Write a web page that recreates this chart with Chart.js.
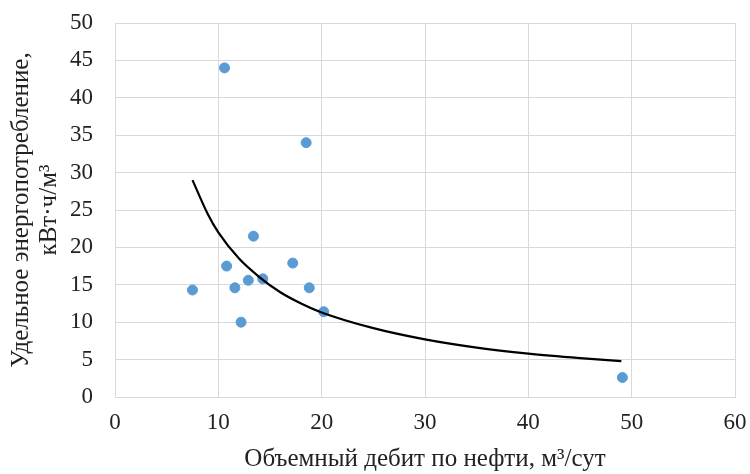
<!DOCTYPE html>
<html>
<head>
<meta charset="utf-8">
<script src="https://cdn.jsdelivr.net/npm/chart.js@4/dist/chart.umd.min.js"></script>
<style>
  html, body { margin: 0; padding: 0; background: #fff; }
  #wrap { width: 750px; height: 474px; }
</style>
</head>
<body>
<div id="wrap"><canvas id="chart" width="750" height="474"></canvas></div>
<script>
// Точки измерений
const debit = [10.6, 18.5, 13.4, 10.8, 17.2, 12.9, 14.3, 11.6, 7.5, 18.8, 20.2, 12.2, 49.1];
const energy = [44.0, 34.0, 21.5, 17.5, 17.9, 15.6, 15.8, 14.6, 14.3, 14.6, 11.4, 10.0, 2.6];

// Линия тренда
const trendX = [7.5, 9, 10, 12, 14, 16, 18, 20, 25, 30, 35, 40, 45, 49];
const trendY = [29.0, 24.4, 22.0, 18.5, 16.0, 14.0, 12.5, 11.3, 9.2, 7.7, 6.6, 5.8, 5.2, 4.8];

const xTicks = [0, 10, 20, 30, 40, 50, 60];
const yTicks = [0, 5, 10, 15, 20, 25, 30, 35, 40, 45, 50];

const font = "'Liberation Serif', 'Times New Roman', serif";
Chart.defaults.font.family = font;
Chart.defaults.color = '#222';

new Chart(document.getElementById('chart'), {
    type: 'scatter',
    data: {
        datasets: [
            {
                data: debit.map((x, i) => ({ x: x, y: energy[i] })),
                backgroundColor: '#5b9bd5',
                borderColor: '#5b9bd5',
                pointRadius: 5,
                order: 2
            },
            {
                type: 'line',
                data: trendX.map((x, i) => ({ x: x, y: trendY[i] })),
                borderColor: '#000',
                borderWidth: 2.2,
                pointRadius: 0,
                fill: false,
                cubicInterpolationMode: 'monotone',
                order: 1
            }
        ]
    },
    options: {
        responsive: false,
        animation: false,
        layout: { autoPadding: false, padding: { top: 23, right: 15, left: 0, bottom: 0 } },
        plugins: { legend: { display: false }, tooltip: { enabled: false } },
        scales: {
            x: {
                type: 'linear',
                min: 0, max: 60,
                afterBuildTicks: s => { s.ticks = xTicks.map(v => ({ value: v })); },
                afterFit: s => {
                    s.height = 77;
                    // убираем автоматические отступы под подписи
                    s.paddingLeft = 0;
                    s.paddingRight = 0;
                },
                grid: { color: '#d9d9d9', lineWidth: 1, drawTicks: false },
                border: { color: '#d9d9d9' },
                ticks: { font: { size: 23 }, padding: 12, color: '#222' },
                title: {
                    display: true,
                    text: 'Объемный дебит по нефти, м³/сут',
                    font: { size: 25 },
                    color: '#222',
                    padding: { top: 0, bottom: 0 }
                }
            },
            y: {
                min: 0, max: 50,
                afterBuildTicks: s => { s.ticks = yTicks.map(v => ({ value: v })); },
                afterFit: s => {
                    s.width = 115;
                    s.paddingTop = 0;
                    s.paddingBottom = 0;
                },
                grid: { color: '#d9d9d9', lineWidth: 1, drawTicks: false },
                border: { color: '#d9d9d9' },
                ticks: { font: { size: 23 }, padding: 22, color: '#222' },
                title: {
                    display: true,
                    text: ['Удельное энергопотребление,', 'кВт·ч/м³'],
                    font: { size: 25, lineHeight: 1.1 },
                    color: '#222',
                    padding: { top: 8, bottom: 0 }
                }
            }
        }
    }
});
</script>
</body>
</html>
